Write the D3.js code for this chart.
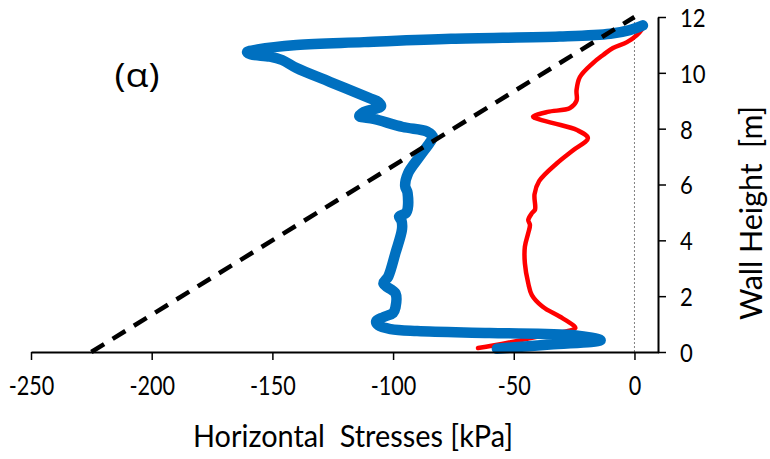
<!DOCTYPE html>
<html>
<head>
<meta charset="utf-8">
<script src="https://cdn.jsdelivr.net/npm/d3@7"></script>
<style>
  html, body { margin: 0; padding: 0; background: #fff; }
  svg { display: block; }
  text { font-family: Lato, "Open Sans", "Liberation Sans", sans-serif; fill: #000; }
</style>
</head>
<body>
<svg id="chart" width="770" height="459"></svg>
<script>
// ---- data ----
const xTicks = [-250, -200, -150, -100, -50, 0];
const yTicks = [0, 2, 4, 6, 8, 10, 12];

// blue series: stress (kPa) and height (m)
const blueStress = [-57, -35, -14, -25, -60, -90, -101, -106, -107, -104, -100, -99, -99, -104, -102, -99, -96.3, -96.5, -97.5, -94.5, -94, -95, -93.8, -89, -84.8, -83.5, -86, -96, -108, -114, -112, -105, -106, -110, -126, -140, -146, -151, -159, -160.5, -156, -140, -112, -76, -31, -10, -2, 3.5];
const blueHeight = [0.12, 0.27, 0.42, 0.6, 0.68, 0.75, 0.82, 0.95, 1.1, 1.25, 1.4, 1.6, 2.1, 2.45, 2.7, 3.55, 4.4, 4.7, 4.85, 5.0, 5.7, 5.95, 6.4, 7.0, 7.5, 7.7, 7.9, 8.06, 8.35, 8.45, 8.6, 8.8, 8.95, 9.1, 9.67, 10.17, 10.46, 10.58, 10.66, 10.74, 10.84, 11.0, 11.1, 11.22, 11.3, 11.4, 11.53, 11.7];

// red series
const redStress = [-64.8, -58.6, -40, -24.5, -25.4, -31, -38, -42.5, -44, -45.4, -45.4, -44, -43.3, -44, -42.5, -41.2, -41.4, -39.5, -32, -25.4, -19.3, -23.8, -33.7, -41.2, -42, -36, -26.7, -24, -24, -22.6, -17.2, -13, -8.9, -3.1, 1, 3];
const redHeight = [0.14, 0.23, 0.55, 0.86, 0.96, 1.27, 1.62, 2.04, 2.46, 3.18, 3.77, 4.26, 4.55, 4.73, 4.97, 5.1, 5.65, 6.12, 6.77, 7.23, 7.66, 7.95, 8.2, 8.38, 8.43, 8.6, 8.74, 9.0, 9.38, 9.85, 10.35, 10.64, 10.89, 11.1, 11.35, 11.55];

// dashed reference line
const refStress = [-225, 0];
const refHeight = [0, 12];

const xDomain = [-250, 10];
const yDomain = [0, 12];

// ---- drawing ----
const svg = d3.select("#chart");
const x = d3.scaleLinear().domain(xDomain).range([31, 658.6]);
const y = d3.scaleLinear().domain(yDomain).range([352, 17]);

const zip = (a, b) => a.map((v, i) => [v, b[i]]);
const line = d3.line().x(d => x(d[0])).y(d => y(d[1]));
const smooth = d3.line().x(d => x(d[0])).y(d => y(d[1])).curve(d3.curveCatmullRom.alpha(0.5));

// zero line (dotted)
svg.append("line")
  .attr("x1", x(0)).attr("x2", x(0))
  .attr("y1", y(0)).attr("y2", y(12))
  .attr("stroke", "#808080").attr("stroke-width", 1)
  .attr("stroke-dasharray", "2,2");

// red
svg.append("path")
  .attr("d", smooth(zip(redStress, redHeight)))
  .attr("fill", "none").attr("stroke", "#FF0000")
  .attr("stroke-width", 4.5).attr("stroke-linejoin", "round").attr("stroke-linecap", "round");

// blue
svg.append("path")
  .attr("d", smooth(zip(blueStress, blueHeight)))
  .attr("fill", "none").attr("stroke", "#0070C0")
  .attr("stroke-width", 10.5).attr("stroke-linejoin", "round").attr("stroke-linecap", "round");

// dashed reference
svg.append("path")
  .attr("d", line(zip(refStress, refHeight)))
  .attr("fill", "none").attr("stroke", "#000")
  .attr("stroke-width", 4.5).attr("stroke-dasharray", "15,10");

// x axis
const gx = svg.append("g").attr("transform", `translate(0,${y(0)})`)
  .call(d3.axisBottom(x).tickValues(xTicks).tickSize(8).tickSizeOuter(0).tickFormat(d3.format("d")));
gx.select(".domain").attr("stroke", "#000").attr("stroke-width", 2);
gx.selectAll(".tick line").attr("stroke", "#000").attr("stroke-width", 1.5);
gx.selectAll(".tick text")
  .attr("y", 0).attr("dy", 0)
  .attr("transform", "translate(0,43) scale(0.8,1)")
  .style("font-size", "27px")
  .text(d => d < 0 ? "-" + Math.abs(d) : d);

// y axis (right)
const gy = svg.append("g").attr("transform", `translate(658,0)`)
  .call(d3.axisRight(y).tickValues(yTicks).tickSize(8).tickSizeOuter(0));
gy.select(".domain").attr("stroke", "#000").attr("stroke-width", 2);
gy.selectAll(".tick line").attr("stroke", "#000").attr("stroke-width", 1.5);
gy.selectAll(".tick text")
  .attr("x", 0).attr("dy", "0.36em")
  .attr("transform", "translate(22,0) scale(0.85,1)")
  .style("font-size", "26px");
gx.attr("font-family", null); gy.attr("font-family", null);
gx.attr("font-size", null); gy.attr("font-size", null);

// titles
svg.append("text")
  .attr("x", 353).attr("y", 447)
  .attr("text-anchor", "middle")
  .style("font-size", "30px")
  .attr("textLength", 320).attr("lengthAdjust", "spacingAndGlyphs")
  .text("Horizontal\u00A0 Stresses [kPa]");

svg.append("text")
  .attr("transform", "translate(762,213) rotate(-90)")
  .attr("text-anchor", "middle")
  .style("font-size", "30px")
  .attr("textLength", 214).attr("lengthAdjust", "spacingAndGlyphs")
  .text("Wall Height\u00A0 [m]");

svg.append("text")
  .attr("x", 137).attr("y", 87)
  .attr("text-anchor", "middle")
  .style("font-family", "'Open Sans', 'Noto Sans', sans-serif")
  .style("font-size", "33px")
  .attr("textLength", 45).attr("lengthAdjust", "spacingAndGlyphs")
  .text("(α)");
</script>
</body>
</html>
